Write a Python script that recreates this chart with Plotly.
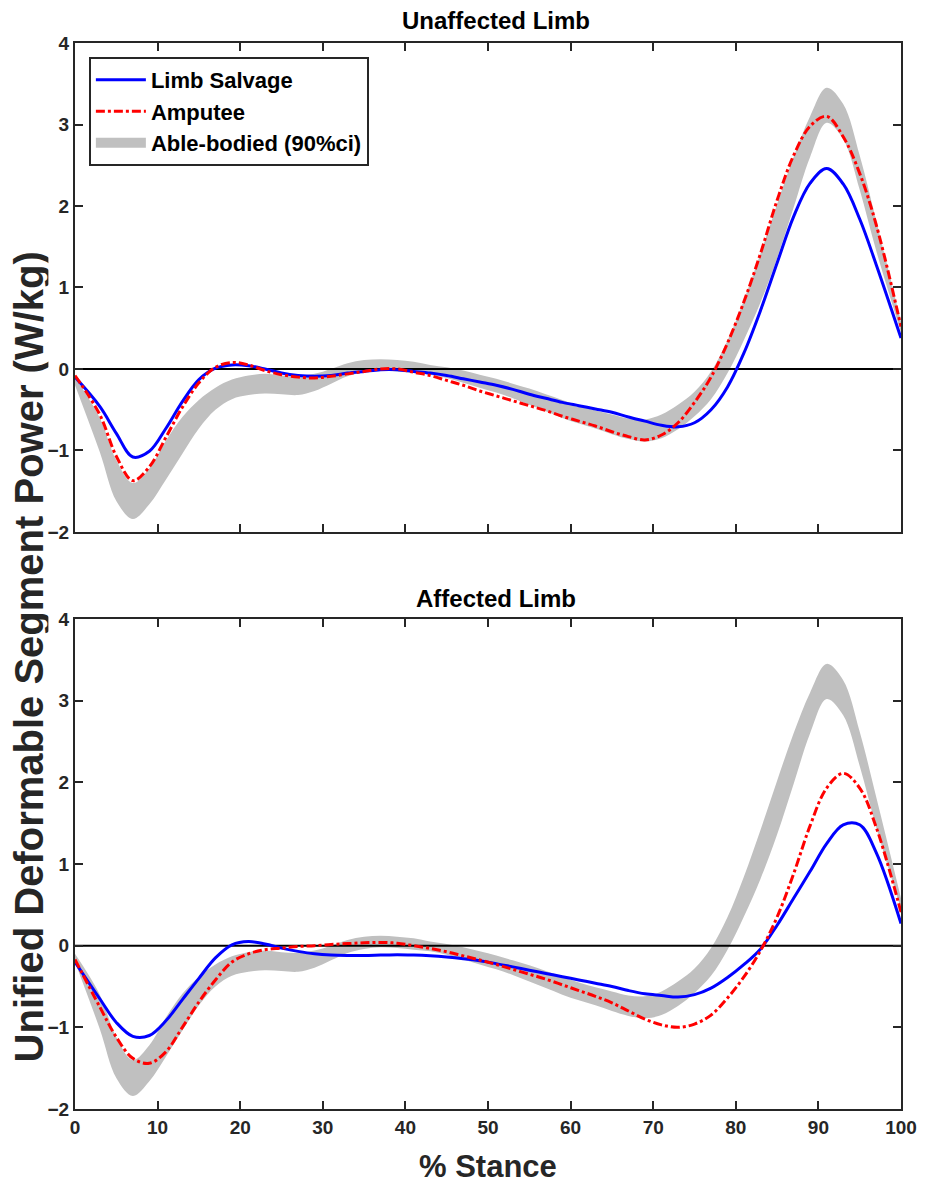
import plotly.graph_objects as go

# ---------------- data ----------------
stance = [0, 3, 5, 7, 9, 11, 13, 15, 17, 19, 21, 23, 25, 27, 29, 31, 33, 35, 37, 39,
          41, 43, 45, 47, 49, 51, 53, 55, 57, 59, 61, 63, 65, 67, 69, 71, 73, 75, 77, 79,
          81, 83, 85, 87, 89, 91, 93, 95, 97, 100]

able_lo = [-0.2, -1.02, -1.62, -1.84, -1.66, -1.36, -1.04, -0.73, -0.5, -0.37,
           -0.32, -0.3, -0.31, -0.32, -0.27, -0.18, -0.09, -0.04, -0.02, -0.03,
           -0.05, -0.07, -0.11, -0.17, -0.23, -0.29, -0.36, -0.44, -0.52, -0.6,
           -0.67, -0.73, -0.8, -0.86, -0.89, -0.85, -0.74, -0.58, -0.37, -0.05,
           0.36, 0.82, 1.36, 1.98, 2.6, 3.02, 2.82, 2.2, 1.45, 0.45]
able_hi = [-0.1, -0.6, -1.12, -1.40, -1.22, -0.88, -0.59, -0.38, -0.23, -0.13,
           -0.08, -0.06, -0.08, -0.09, -0.06, 0.0, 0.07, 0.11, 0.12, 0.11,
           0.09, 0.05, 0.02, -0.02, -0.07, -0.12, -0.18, -0.24, -0.31, -0.38,
           -0.45, -0.51, -0.56, -0.61, -0.62, -0.56, -0.44, -0.28, -0.03, 0.35,
           0.85, 1.42, 2.02, 2.6, 3.1, 3.45, 3.25, 2.62, 1.82, 0.58]

unaff_salvage = [-0.1, -0.46, -0.79, -1.08, -1.01, -0.73, -0.4, -0.13, 0.01, 0.05,
                 0.04, 0.0, -0.05, -0.08, -0.09, -0.08, -0.05, -0.03, -0.01, -0.01,
                 -0.03, -0.05, -0.08, -0.12, -0.16, -0.2, -0.25, -0.31, -0.36, -0.41,
                 -0.45, -0.49, -0.53, -0.59, -0.64, -0.69, -0.71, -0.66, -0.5, -0.22,
                 0.2, 0.72, 1.3, 1.87, 2.28, 2.46, 2.27, 1.84, 1.28, 0.38]
unaff_amputee = [-0.08, -0.56, -1.07, -1.37, -1.2, -0.84, -0.47, -0.17, 0.02, 0.08,
                 0.05, -0.02, -0.07, -0.1, -0.11, -0.09, -0.06, -0.03, 0.0, 0.0,
                 -0.04, -0.08, -0.14, -0.2, -0.27, -0.33, -0.39, -0.45, -0.51, -0.58,
                 -0.64, -0.7, -0.77, -0.83, -0.87, -0.81, -0.66, -0.41, -0.1, 0.32,
                 0.83, 1.42, 2.07, 2.62, 2.98, 3.1, 2.85, 2.4, 1.77, 0.52]

aff_salvage = [-0.2, -0.65, -0.94, -1.11, -1.1, -0.92, -0.66, -0.4, -0.15, 0.01,
               0.05, 0.02, -0.03, -0.07, -0.1, -0.115, -0.12, -0.12, -0.115, -0.11,
               -0.115, -0.125, -0.14, -0.16, -0.185, -0.22, -0.26, -0.3, -0.34, -0.38,
               -0.42, -0.46, -0.5, -0.55, -0.59, -0.61, -0.63, -0.6, -0.52, -0.39,
               -0.23, -0.04, 0.25, 0.58, 0.91, 1.25, 1.48, 1.48, 1.14, 0.27]
aff_amputee = [-0.17, -0.75, -1.12, -1.38, -1.44, -1.3, -1.0, -0.69, -0.42, -0.2,
               -0.1, -0.05, -0.03, -0.01, 0.0, 0.015, 0.025, 0.035, 0.04, 0.03,
               0.0, -0.035, -0.075, -0.125, -0.175, -0.23, -0.29, -0.35, -0.41, -0.48,
               -0.55, -0.62, -0.7, -0.8, -0.9, -0.97, -1.0, -0.96, -0.85, -0.64,
               -0.38, -0.06, 0.35, 0.88, 1.47, 1.93, 2.11, 1.93, 1.45, 0.41]

x_range = [0, 100]
y_range = [-2, 4]
x_ticks = [0, 10, 20, 30, 40, 50, 60, 70, 80, 90, 100]
y_ticks = [-2, -1, 0, 1, 2, 3, 4]
panel_titles = ["Unaffected Limb", "Affected Limb"]

# ---------------- styles ----------------
FONT = "Liberation Sans, Arial, sans-serif"
AX = "#262626"
BAND = "rgb(192,192,192)"
BLUE = "#0000FF"
RED = "#FF0000"

fig = go.Figure()

panels = [("x", "y", unaff_salvage, unaff_amputee),
          ("x2", "y2", aff_salvage, aff_amputee)]

for xa, ya, sal, amp in panels:
    fig.add_trace(go.Scatter(x=stance, y=able_lo, xaxis=xa, yaxis=ya, mode="lines",
                             line=dict(width=0, color=BAND, shape="spline"),
                             showlegend=False, hoverinfo="skip"))
    fig.add_trace(go.Scatter(x=stance, y=able_hi, xaxis=xa, yaxis=ya, mode="lines",
                             line=dict(width=0, color=BAND, shape="spline"),
                             fill="tonexty", fillcolor=BAND,
                             showlegend=False, hoverinfo="skip"))
    fig.add_trace(go.Scatter(x=x_range, y=[0, 0], xaxis=xa, yaxis=ya, mode="lines",
                             line=dict(width=2, color="black"), showlegend=False,
                             hoverinfo="skip"))
    fig.add_trace(go.Scatter(x=stance, y=sal, xaxis=xa, yaxis=ya, mode="lines",
                             line=dict(width=3, color=BLUE, shape="spline"),
                             name="Limb Salvage", showlegend=False))
    fig.add_trace(go.Scatter(x=stance, y=amp, xaxis=xa, yaxis=ya, mode="lines",
                             line=dict(width=3, color=RED, shape="spline", dash="dashdot"),
                             name="Amputee", showlegend=False))

# legend entries (legend-only dummies so the symbols match the reference)
fig.add_trace(go.Scatter(x=[None], y=[None], mode="lines", name="Limb Salvage",
                         line=dict(width=3, color=BLUE)))
fig.add_trace(go.Scatter(x=[None], y=[None], mode="lines", name="Amputee",
                         line=dict(width=3, color=RED, dash="dashdot")))
fig.add_trace(go.Scatter(x=[None], y=[None], mode="lines", name="Able-bodied (90%ci)",
                         line=dict(width=21, color=BAND)))

axis_common = dict(showline=True, mirror="ticks", linecolor=AX, linewidth=2,
                   ticks="inside", ticklen=8, tickwidth=2, tickcolor=AX,
                   showgrid=False, zeroline=False,
                   tickfont=dict(family=FONT, size=19, color=AX, weight="bold"))

fig.update_layout(
    width=921, height=1178,
    margin=dict(l=67, r=20, t=35, b=77),
    plot_bgcolor="white", paper_bgcolor="white",
    showlegend=True,
    xaxis=dict(domain=[0, 1], anchor="y", range=x_range, tickvals=x_ticks,
               showticklabels=False, **axis_common),
    yaxis=dict(domain=[0.5413, 1], anchor="x", range=y_range, tickvals=y_ticks,
               **axis_common),
    xaxis2=dict(domain=[0, 1], anchor="y2", range=x_range, tickvals=x_ticks,
                **axis_common),
    yaxis2=dict(domain=[0, 0.4597], anchor="x2", range=y_range, tickvals=y_ticks,
                **axis_common),
    legend=dict(x=0.0168, y=0.987, xanchor="left", yanchor="top",
                bgcolor="white", bordercolor=AX, borderwidth=2,
                font=dict(family=FONT, size=22, color="black", weight="bold"),
                itemwidth=50, tracegroupgap=0, traceorder="normal"),
    annotations=[
        dict(text=panel_titles[0], x=0.51, y=1.0216, xref="paper", yref="paper",
             showarrow=False, xanchor="center", yanchor="middle", height=24,
             font=dict(family=FONT, size=24, color="black", weight="bold")),
        dict(text=panel_titles[1], x=0.51, y=0.4794, xref="paper", yref="paper",
             showarrow=False, xanchor="center", yanchor="middle", height=24,
             font=dict(family=FONT, size=24, color="black", weight="bold")),
        dict(text="Unified Deformable Segment Power (W/kg)", x=-0.0552, y=0.424,
             xref="paper", yref="paper", showarrow=False, textangle=-90,
             xanchor="center", yanchor="middle", height=38,
             font=dict(family=FONT, size=40, color=AX, weight="bold")),
        dict(text="% Stance", x=0.5, y=-0.0535, xref="paper", yref="paper",
             showarrow=False, xanchor="center", yanchor="middle", height=34,
             font=dict(family=FONT, size=31, color=AX, weight="bold")),
    ],
)

fig.write_html("out.html")
